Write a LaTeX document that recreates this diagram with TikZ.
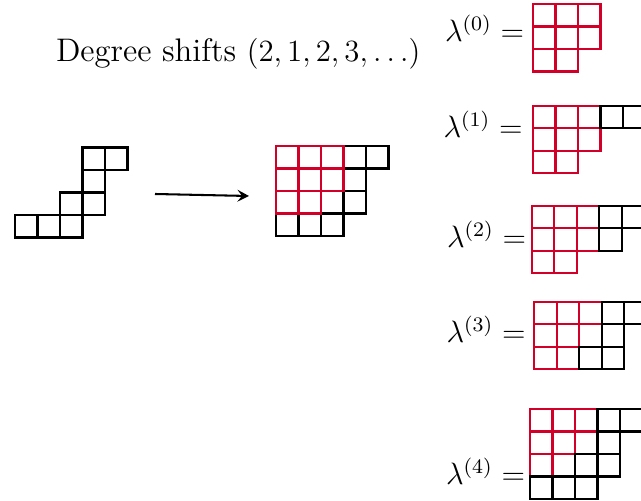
\documentclass[tikz,border=0pt]{standalone}
\usetikzlibrary{arrows.meta}
\definecolor{boxred}{RGB}{210,0,40}
\newcommand\cellsz{22.5}
\newcommand\youngcells[2]{\foreach \c/\r in {#2} \draw[#1] ({\c*\cellsz},{\r*\cellsz}) rectangle ++(\cellsz,\cellsz);}
\tikzset{
  redcell/.style={draw=boxred,line width=0.8pt},
  blackcell/.style={draw=black,line width=0.8pt},
  lab/.style={anchor=base east,inner sep=0pt,font=\fontsize{11.7}{13.5}\selectfont},
  conn/.style={line width=0.8pt,-{Stealth[length=4.5pt,width=4.6pt,inset=1.8pt]}}
}
\begin{document}
\begin{tikzpicture}[x=0.389pt,y=-0.389pt]
\clip (0,0) rectangle (641,501);
% title
\node[anchor=base west,inner sep=0pt,font=\fontsize{12.7}{15}\selectfont] (title) at (55.5,61.7) {Degree shifts $(2,1,2,3,\dots)$};
% left skew shape
\begin{scope}[shift={(15,147.5)}]
\youngcells{blackcell}{3/0,4/0,3/1,2/2,3/2,0/3,1/3,2/3}
\end{scope}
% middle shape
\begin{scope}[shift={(276,146)}]
\youngcells{blackcell}{3/0,4/0,3/1,2/2,3/2,0/3,1/3,2/3}
\youngcells{redcell}{0/0,1/0,2/0,0/1,1/1,2/1,0/2,1/2}
\end{scope}
% arrow
\coordinate (a) at (155,194);
\coordinate (b) at (249,196);
\draw[conn] (a) -- (b);
% lambda^(0)
\node[lab] (l0) at (524.5,42) {$\lambda^{(0)} =$};
\begin{scope}[shift={(533,4)}]
\youngcells{redcell}{0/0,1/0,2/0,0/1,1/1,2/1,0/2,1/2}
\end{scope}
% lambda^(1)
\node[lab] (l1) at (523,137.5) {$\lambda^{(1)} =$};
\begin{scope}[shift={(533,105.7)}]
\youngcells{redcell}{0/0,1/0,2/0,0/1,1/1,2/1,0/2,1/2}
\youngcells{blackcell}{3/0,4/0}
\end{scope}
% lambda^(2)
\node[lab] (l2) at (526.5,247.5) {$\lambda^{(2)} =$};
\begin{scope}[shift={(531.7,205.7)}]
\youngcells{redcell}{0/0,1/0,2/0,0/1,1/1,2/1,0/2,1/2}
\youngcells{blackcell}{3/0,4/0,3/1}
\end{scope}
% lambda^(3)
\node[lab] (l3) at (526,342.5) {$\lambda^{(3)} =$};
\begin{scope}[shift={(534.3,301.7)}]
\youngcells{redcell}{0/0,1/0,2/0,0/1,1/1,2/1,0/2,1/2}
\youngcells{blackcell}{3/0,4/0,3/1,2/2,3/2}
\end{scope}
% lambda^(4)
\node[lab] (l4) at (525.5,484.5) {$\lambda^{(4)} =$};
\begin{scope}[shift={(530,409)}]
\youngcells{redcell}{0/0,1/0,2/0,0/1,1/1,2/1,0/2,1/2}
\youngcells{blackcell}{3/0,4/0,3/1,2/2,3/2,0/3,1/3,2/3}
\end{scope}
\end{tikzpicture}
\end{document}
